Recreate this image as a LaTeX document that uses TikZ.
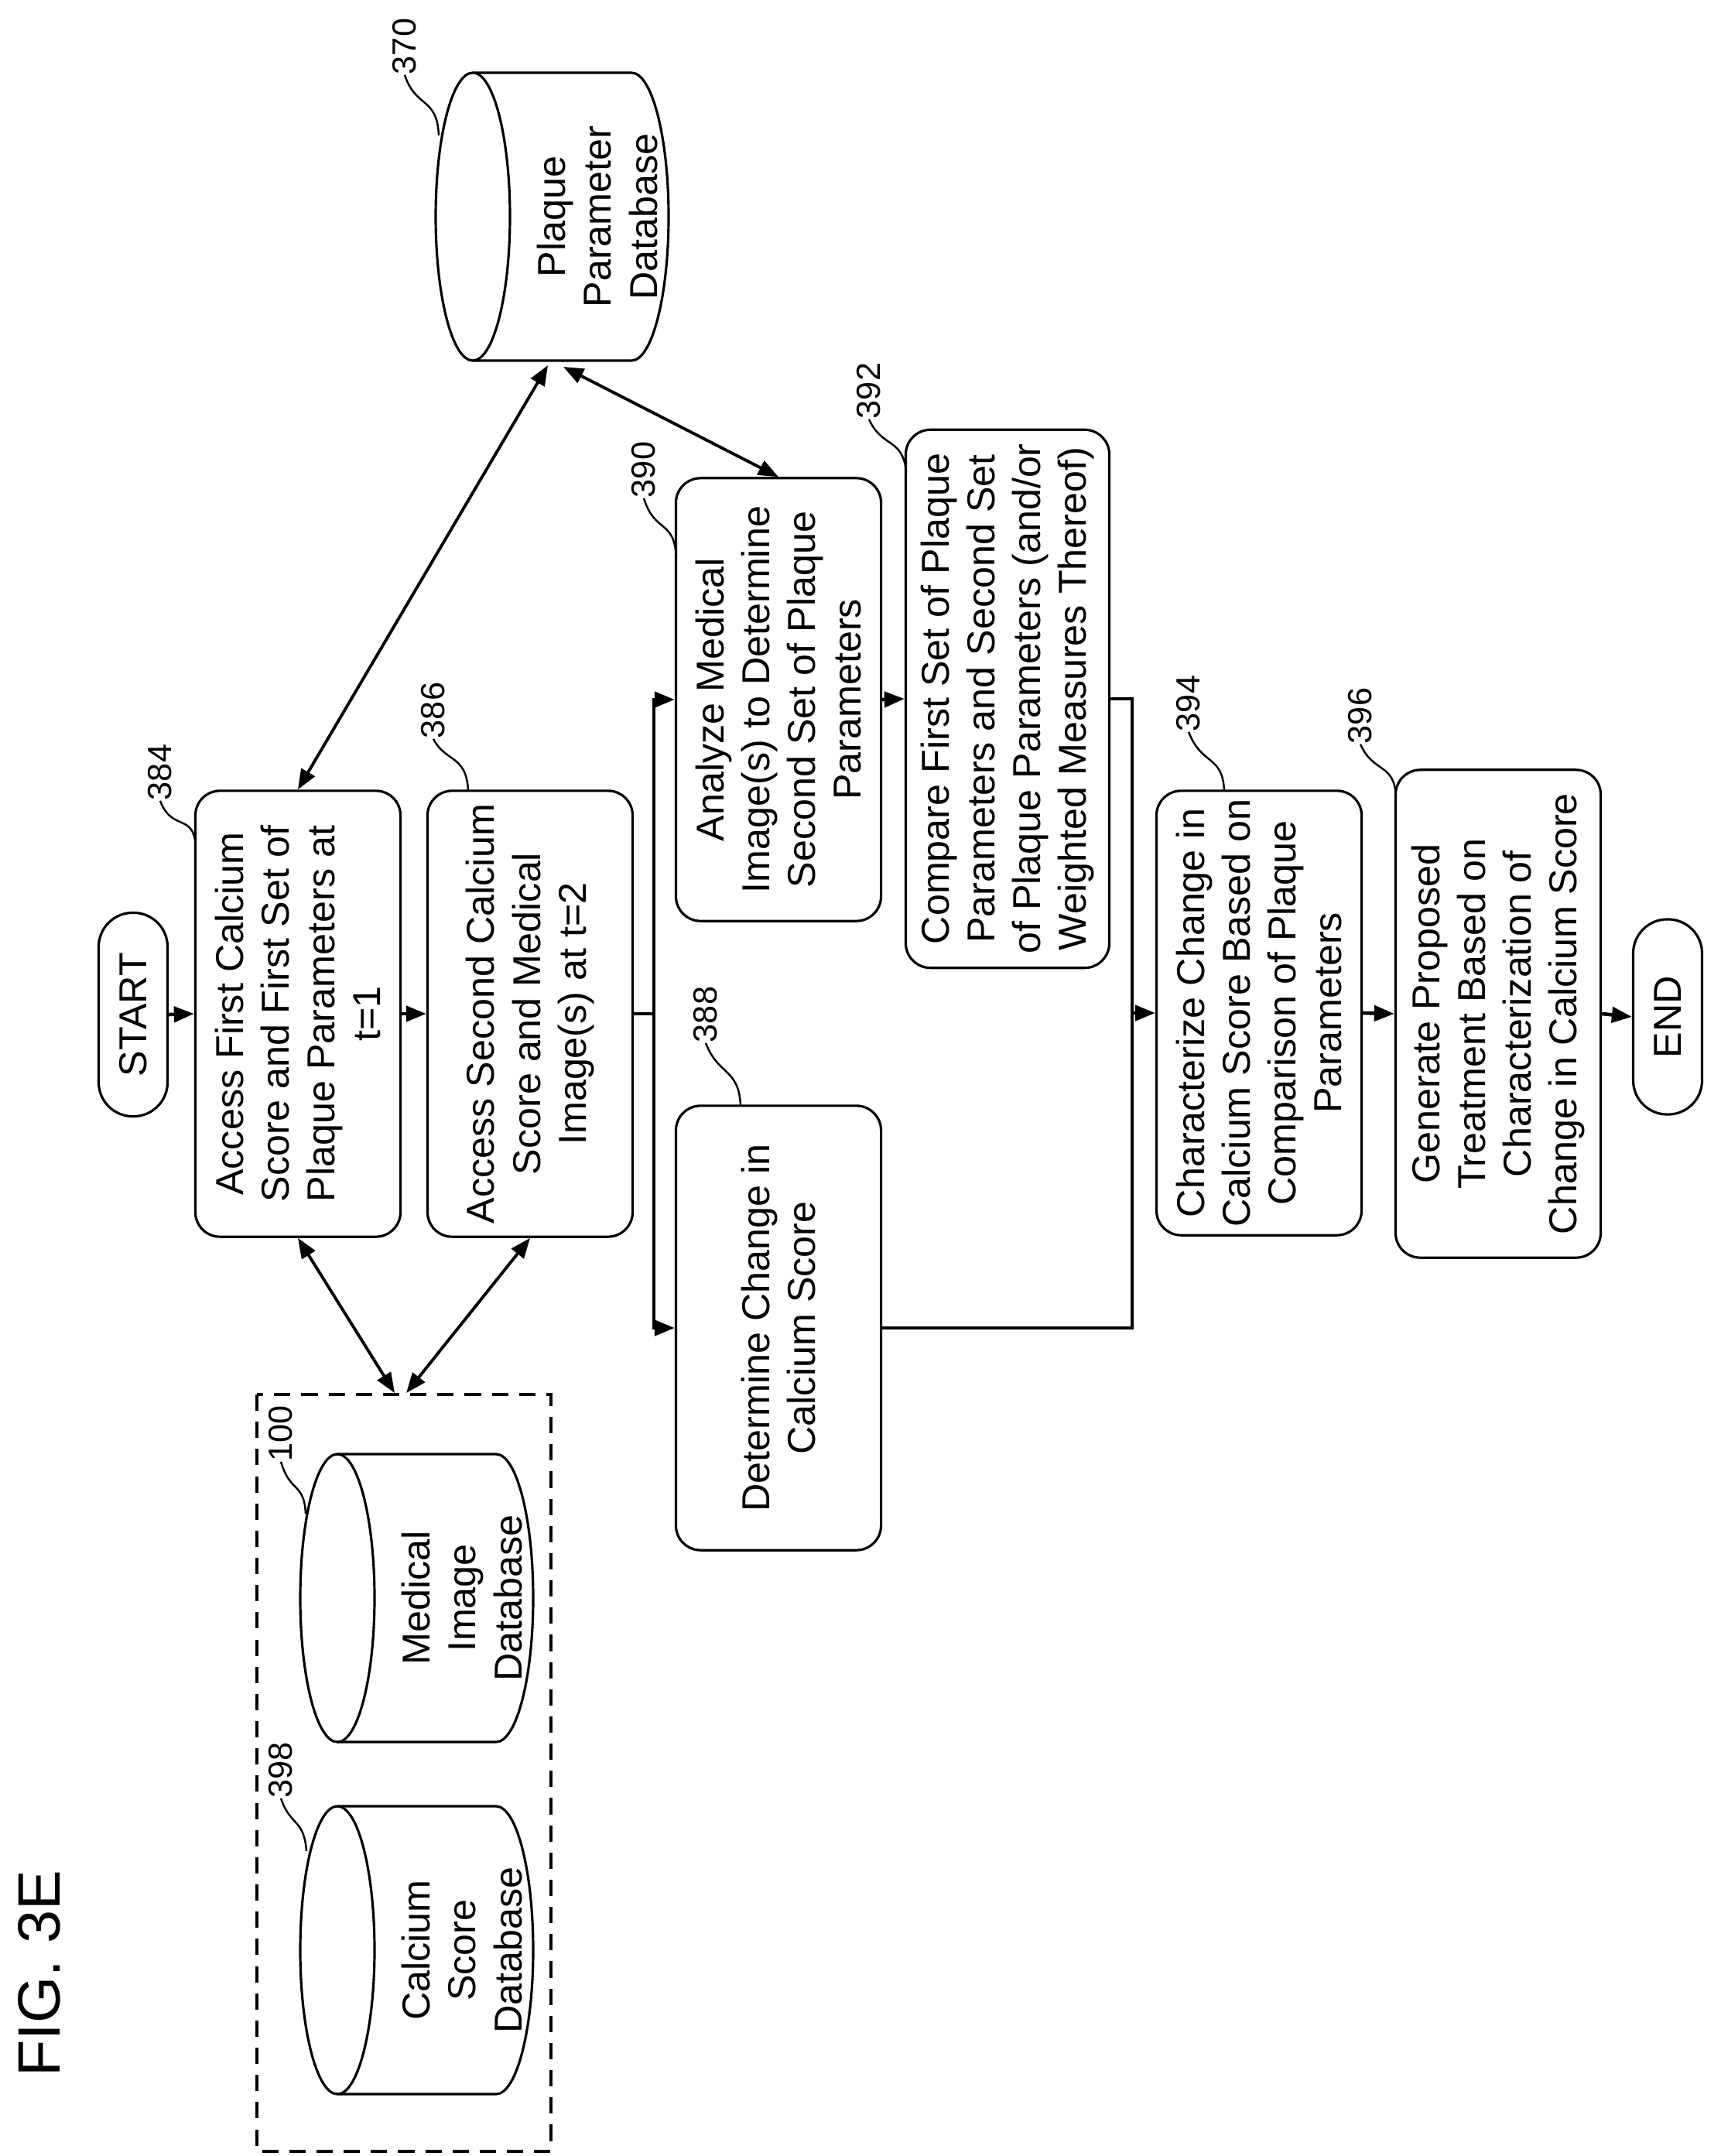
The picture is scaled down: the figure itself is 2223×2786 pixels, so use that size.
\documentclass[tikz,border=0pt]{standalone}
\usepackage{fontspec}
\setmainfont{Liberation Sans}
\usetikzlibrary{arrows.meta}
\newcommand{\dbcyl}[4]{% left x, top y, right x, bottom y
  \draw[line width=0.9pt] ({#1+48},{(#2+#4)/2}) ellipse[x radius=48, y radius={(#4-#2)/2}];
  \draw[line width=0.9pt] ({#1+48},#2) -- ({#3-48},#2) arc[start angle=-90, end angle=90, x radius=48, y radius={(#4-#2)/2}] -- ({#1+48},#4);
}
\begin{document}
\begin{tikzpicture}[x=0.01cm,y=-0.01cm]
        \tikzstyle{process} = [rectangle, rounded corners=0.32cm, draw=black, line width=0.9pt, rotate=90, align=center, inner sep=0pt, minimum height=2.65cm, font=\fontsize{14.3}{16.8}\selectfont]
        \tikzstyle{term} = [rectangle, rounded corners=0.44cm, draw=black, line width=0.9pt, rotate=90, inner sep=0pt, minimum height=0.89cm, font=\fontsize{14.3}{16.8}\selectfont]
        \tikzstyle{dbtext} = [rotate=90, align=center, inner sep=0pt, font=\fontsize{14.3}{16.8}\selectfont]
        \tikzstyle{ref} = [rotate=90, inner sep=0pt, font=\fontsize{12.3}{14}\selectfont]
        \tikzstyle{arrow} = [line width=1.3pt, -{Triangle[length=0.26cm,width=0.2cm]}]
        \tikzstyle{both} = [line width=1.1pt, {Triangle[length=0.26cm,width=0.2cm]}-{Triangle[length=0.26cm,width=0.2cm]}]
        \tikzstyle{leader} = [line width=0.7pt]

        \useasboundingbox (0,0) rectangle (2223,2786);

        \node (fig) [rotate=90, font=\fontsize{22}{24}\selectfont] at (51,2550) {FIG. 3E};

        \node (start) [term, minimum width=2.63cm] at (172,1311) {START};
        \node (b384) [process, minimum width=5.76cm] at (385,1310) {Access First Calcium\\Score and First Set of\\Plaque Parameters at\\t=1};
        \node (b386) [process, minimum width=5.76cm] at (685,1310) {Access Second Calcium\\Score and Medical\\Image(s) at t=2};
        \node (b390) [process, minimum width=5.72cm] at (1006,904) {Analyze Medical\\Image(s) to Determine\\Second Set of Plaque\\Parameters};
        \node (b388) [process, minimum width=5.74cm] at (1006,1716) {Determine Change in\\Calcium Score};
        \node (b392) [process, minimum width=6.95cm, minimum height=2.63cm] at (1302,903) {Compare First Set of Plaque\\Parameters and Second Set\\of Plaque Parameters (and/or\\Weighted Measures Thereof)};
        \node (b394) [process, minimum width=5.74cm] at (1627,1309) {Characterize Change in\\Calcium Score Based on\\Comparison of Plaque\\Parameters};
        \node (b396) [process, minimum width=6.3cm] at (1936,1310) {Generate Proposed\\Treatment Based on\\Characterization of\\Change in Calcium Score};
        \node (end) [term, minimum width=2.52cm] at (2155,1314) {END};

        % databases
        \dbcyl{563}{94}{864}{466}
        \node (db370) [dbtext] at (772,280) {Plaque\\Parameter\\Database};
        \draw[dashed, line width=1.3pt, dash pattern=on 6pt off 4pt] (332,1802) rectangle (712,2780);
        \dbcyl{388}{1879}{689}{2251}
        \node (db100) [dbtext] at (597,2065) {Medical\\Image\\Database};
        \dbcyl{388}{2334}{689}{2706}
        \node (db398) [dbtext] at (597,2520) {Calcium\\Score\\Database};

        \coordinate (c370a) at (708,472);
        \coordinate (c370b) at (728,474);
        \coordinate (cdba) at (510,1800);
        \coordinate (cdbb) at (525,1800);
        \coordinate (split) at (845,1310);
        \coordinate (merge) at (1463,1309);

        % reference numerals
        \node (r384) [ref] at (207,998) {384};
        \node (r386) [ref] at (560,918) {386};
        \node (r390) [ref] at (832,607) {390};
        \node (r392) [ref] at (1123,505) {392};
        \node (r388) [ref] at (912,1311) {388};
        \node (r394) [ref] at (1536,909) {394};
        \node (r396) [ref] at (1758,925) {396};
        \node (r370) [ref] at (523,60) {370};
        \node (r100) [ref] at (363,1852) {100};
        \node (r398) [ref] at (363,2287) {398};

        \draw [leader] (r384.west) .. controls (222,1075) and (250,1050) .. (253,1093);
        \draw [leader] (r386.west) .. controls (575,985) and (603,975) .. (605,1022);
        \draw [leader] (r390.west) .. controls (846,690) and (872,670) .. (874,722);
        \draw [leader] (r392.west) .. controls (1140,580) and (1168,565) .. (1171,612);
        \draw [leader] (r388.west) .. controls (928,1390) and (955,1380) .. (957,1429);
        \draw [leader] (r394.west) .. controls (1553,990) and (1580,975) .. (1582,1022);
        \draw [leader] (r396.west) .. controls (1775,1000) and (1802,985) .. (1804,1030);
        \draw [leader] (r370.west) .. controls (537,140) and (565,125) .. (567,175);
        \draw [leader] (r100.west) .. controls (375,1930) and (393,1915) .. (395,1956);
        \draw [leader] (r398.west) .. controls (375,2360) and (393,2350) .. (396,2392);

        % flow
        \draw [arrow] (start.south) -- (b384.north);
        \draw [arrow] (b384.south) -- (b386.north);
        \draw [line width=1.3pt] (b386.south) -- (split);
        \draw [arrow] (split) |- (b390.north);
        \draw [arrow] (split) |- (b388.north);
        \draw [arrow] (b390.south) -- (b392.north);
        \draw [line width=1.3pt] (b392.south) -| (merge);
        \draw [line width=1.3pt] (b388.south) -| (merge);
        \draw [arrow] (merge) -- (b394.north);
        \draw [arrow] (b394.south) -- (b396.north);
        \draw [arrow] (b396.south) -- (end.north);

        \draw [both] (b384.east) -- (c370a);
        \draw [both] (b390.east) -- (c370b);
        \draw [both] (b384.west) -- (cdba);
        \draw [both] (b386.west) -- (cdbb);
    \end{tikzpicture}
\end{document}
